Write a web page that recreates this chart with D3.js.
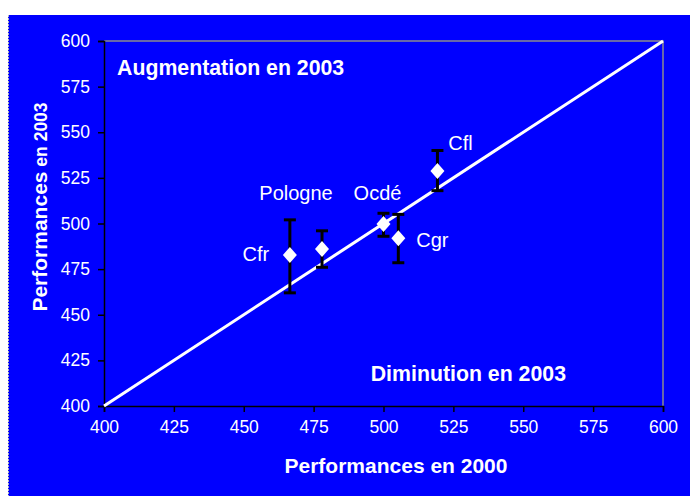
<!DOCTYPE html>
<html>
<head>
<meta charset="utf-8">
<script src="https://cdn.jsdelivr.net/npm/d3@7"></script>
<style>
  body { margin: 0; background: #fff; }
  svg { display: block; font-family: "Liberation Sans", Arial, sans-serif; }
</style>
</head>
<body>
<svg id="chart" width="690" height="496"></svg>
<script>
// data
var countries = ["Cfr", "Pologne", "Ocdé", "Cgr", "Cfl"];
var perf2000  = [466.5, 478, 500, 505.3, 519.3];
var perf2003  = [482.7, 486, 499.7, 491.9, 528.8];
var errLow    = [462, 476, 493, 478.5, 518];
var errHigh   = [502, 496, 505.6, 505, 540];
var ticks     = [400, 425, 450, 475, 500, 525, 550, 575, 600];

// label offsets in pixels relative to the point
var labelDx = [-34, -26, -6, 34, 23];
var labelDy = [ 6, -49, -24, 9, -21];

var svg = d3.select("#chart");
var blue = "#0000ff";

svg.append("rect")
  .attr("x", 8).attr("y", 15)
  .attr("width", 682).attr("height", 481)
  .attr("fill", blue);
svg.append("line")
  .attr("x1", 8.5).attr("x2", 8.5).attr("y1", 15).attr("y2", 496)
  .attr("stroke", "#bbb").attr("stroke-dasharray", "2,1");

var margin = {left: 104, top: 41, right: 663, bottom: 406};
var x = d3.scaleLinear().domain([400, 600]).range([margin.left, margin.right]);
var y = d3.scaleLinear().domain([400, 600]).range([margin.bottom, margin.top]);

// plot frame (top and right edges in grey)
svg.append("path")
  .attr("d", "M" + x(400) + "," + y(600) + "H" + x(600) + "V" + y(400))
  .attr("fill", "none").attr("stroke", "#8c8c8c").attr("stroke-width", 1.5);

var xAxis = svg.append("g")
  .attr("transform", "translate(0," + y(400) + ")")
  .call(d3.axisBottom(x).tickValues(ticks).tickSize(6).tickPadding(9));
var yAxis = svg.append("g")
  .attr("transform", "translate(" + x(400) + ",0)")
  .call(d3.axisLeft(y).tickValues(ticks).tickSize(6).tickPadding(8));

[xAxis, yAxis].forEach(function(a) {
  a.select(".domain").attr("stroke", "#000").attr("stroke-width", 1.5);
  a.selectAll(".tick line").attr("stroke", "#000").attr("stroke-width", 1.5);
  a.selectAll(".tick text").attr("fill", "#fff")
    .style("font-size", "17.5px").style("font-family", "Liberation Sans, Arial, sans-serif");
});

// diagonal line y = x
svg.append("line")
  .attr("x1", x(400)).attr("y1", y(400))
  .attr("x2", x(600)).attr("y2", y(600))
  .attr("stroke", "#fff").attr("stroke-width", 3);

// error bars
var idx = d3.range(countries.length);
var eb = svg.append("g").selectAll("g").data(idx).enter().append("g");
eb.append("line")
  .attr("x1", function(i) { return x(perf2000[i]); })
  .attr("x2", function(i) { return x(perf2000[i]); })
  .attr("y1", function(i) { return y(errLow[i]); })
  .attr("y2", function(i) { return y(errHigh[i]); })
  .attr("stroke", "#000").attr("stroke-width", 3);
eb.append("line")
  .attr("x1", function(i) { return x(perf2000[i]) - 6; })
  .attr("x2", function(i) { return x(perf2000[i]) + 6; })
  .attr("y1", function(i) { return y(errLow[i]); })
  .attr("y2", function(i) { return y(errLow[i]); })
  .attr("stroke", "#000").attr("stroke-width", 3);
eb.append("line")
  .attr("x1", function(i) { return x(perf2000[i]) - 6; })
  .attr("x2", function(i) { return x(perf2000[i]) + 6; })
  .attr("y1", function(i) { return y(errHigh[i]); })
  .attr("y2", function(i) { return y(errHigh[i]); })
  .attr("stroke", "#000").attr("stroke-width", 3);

// diamonds
svg.append("g").selectAll("path").data(idx).enter().append("path")
  .attr("d", "M0,-8L7,0L0,8L-7,0Z")
  .attr("transform", function(i) { return "translate(" + x(perf2000[i]) + "," + y(perf2003[i]) + ")"; })
  .attr("fill", "#fff");

// point labels
svg.append("g").selectAll("text").data(idx).enter().append("text")
  .attr("x", function(i) { return x(perf2000[i]) + labelDx[i]; })
  .attr("y", function(i) { return y(perf2003[i]) + labelDy[i]; })
  .attr("text-anchor", "middle")
  .attr("fill", "#fff")
  .style("font-size", "20px")
  .text(function(i) { return countries[i]; });

// annotations
svg.append("text")
  .attr("x", 117).attr("y", 75)
  .attr("fill", "#fff").style("font-size", "21.3px").style("font-weight", "bold")
  .text("Augmentation en 2003");
svg.append("text")
  .attr("x", 566).attr("y", 381)
  .attr("text-anchor", "end")
  .attr("fill", "#fff").style("font-size", "21.3px").style("font-weight", "bold")
  .text("Diminution en 2003");

// axis titles
svg.append("text")
  .attr("x", 396).attr("y", 473)
  .attr("text-anchor", "middle")
  .attr("fill", "#fff").style("font-size", "21px").style("font-weight", "bold")
  .text("Performances en 2000");
var yt = svg.append("text")
  .attr("transform", "translate(47,207) rotate(-90)")
  .attr("text-anchor", "middle")
  .attr("fill", "#fff").style("font-size", "21px").style("font-weight", "bold");
yt.append("tspan").text("Performances");
yt.append("tspan").style("font-size", "17.5px").text(" en 2003");
</script>
</body>
</html>
